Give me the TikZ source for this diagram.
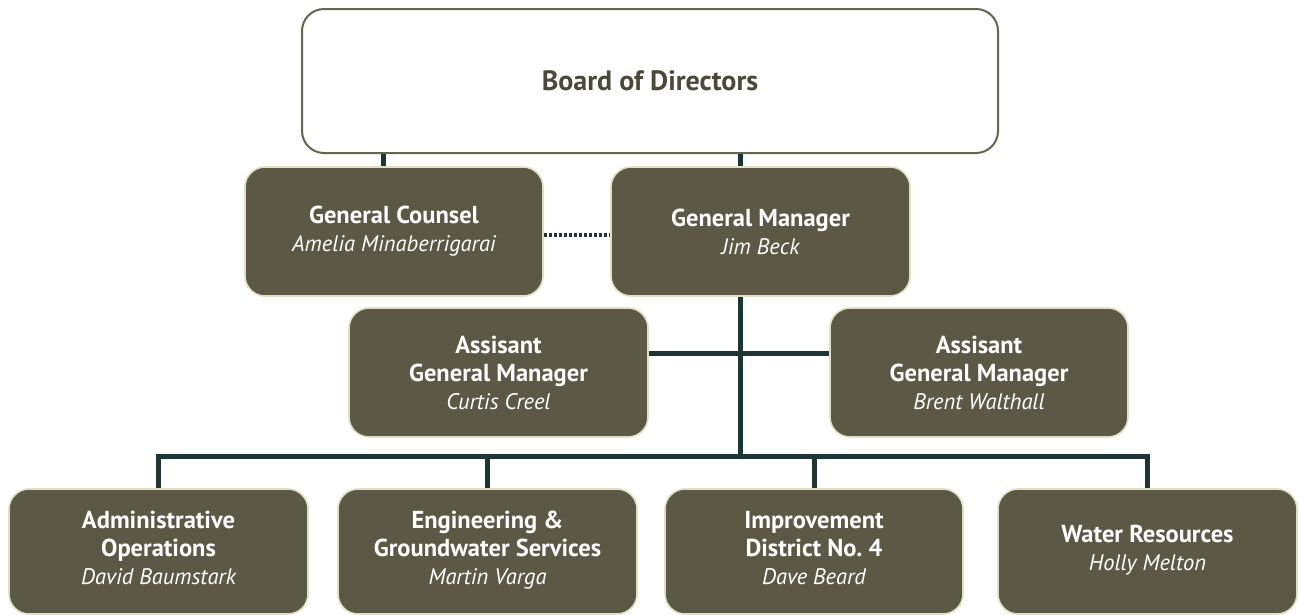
\documentclass[tikz,border=0pt]{standalone}
\usepackage{fontspec}
\setmainfont{PT Sans}
\usetikzlibrary{calc}
\definecolor{boxfill}{HTML}{5B5846}
\definecolor{boxedge}{HTML}{E2E0C2}
\definecolor{connc}{HTML}{1D3535}
\definecolor{boardedge}{HTML}{66654F}
\definecolor{boardtxt}{HTML}{4A493C}
\tikzset{
  orgbox/.style={rectangle, rounded corners=20pt, fill=boxfill, draw=boxedge, line width=1.6pt,
    minimum width=298pt, minimum height=129pt, align=center, text=white, inner sep=0pt,
    font=\fontsize{24.5}{28}\selectfont},
  lowbox/.style={orgbox, minimum width=299pt, minimum height=125pt},
  conn/.style={draw=connc, line width=5pt},
  dotconn/.style={draw=connc, line width=3.5pt, dash pattern=on 3pt off 2pt},
}
\newcommand{\ttl}[1]{\textbf{#1}}
\newcommand{\nm}[1]{{\fontsize{22.5}{28}\selectfont\itshape #1}}
\frenchspacing
\begin{document}
\begin{tikzpicture}[x=1pt,y=-1pt]
\useasboundingbox (0,0) rectangle (1300,614);
\fill[white] (0,0) rectangle (1300,614);
% board
\node[rectangle, rounded corners=22pt, draw=boardedge, line width=2pt, fill=white,
  minimum width=696pt, minimum height=144pt, text=boardtxt,
  font=\fontsize{28}{30}\selectfont\bfseries] (board) at (650,81) {Board of Directors};
% second row
\node[orgbox] (gc) at (394,231.5) {\ttl{General Counsel}\\\nm{Amelia Minaberrigarai}};
\node[orgbox, minimum width=299pt] (gm) at (760.5,231.5) {\ttl{General Manager}\\\nm{Jim Beck}};
% AGMs
\node[orgbox, minimum width=299pt] (agml) at (498.5,372.5) {\ttl{Assisant}\\\ttl{General Manager}\\\nm{Curtis Creel}};
\node[orgbox] (agmr) at (979,372.5) {\ttl{Assisant}\\\ttl{General Manager}\\\nm{Brent Walthall}};
% bottom row
\node[lowbox] (b1) at (158.5,551.5) {\ttl{Administrative}\\\ttl{Operations}\\\nm{David Baumstark}\\[-20pt]\mbox{}};
\node[lowbox] (b2) at (487.5,551.5) {\ttl{Engineering \&}\\\ttl{Groundwater Services}\\\nm{Martin Varga}\\[-20pt]\mbox{}};
\node[lowbox, minimum width=298pt] (b3) at (814,551.5) {\ttl{Improvement}\\\ttl{District No. 4}\\\nm{Dave Beard}\\[-20pt]\mbox{}};
\node[lowbox] (b4) at (1147.5,551.5) {\ttl{Water Resources}\\\nm{Holly Melton}\\[-20pt]\mbox{}};
% connectors
\coordinate (gcx) at (383,0);
\coordinate (gmx) at (740,0);
\coordinate (bus) at (740,456);
\coordinate (agmy) at (0,353);
\coordinate (doty) at (0,235);
\draw[conn] (board.south -| gcx) -- (gc.north -| gcx);
\draw[conn] (board.south -| gmx) -- (gm.north -| gmx);
\draw[dotconn] (gc.east |- doty) -- (gm.west |- doty);
\draw[conn] (gm.south -| gmx) -- (bus);
\draw[conn] (agml.east |- agmy) -- (agmr.west |- agmy);
\draw[conn, line join=miter] (b1.north) |- (b4.north |- bus) -- (b4.north);
\draw[conn] (b2.north) -- (b2.north |- bus);
\draw[conn] (b3.north) -- (b3.north |- bus);
\end{tikzpicture}
\end{document}
